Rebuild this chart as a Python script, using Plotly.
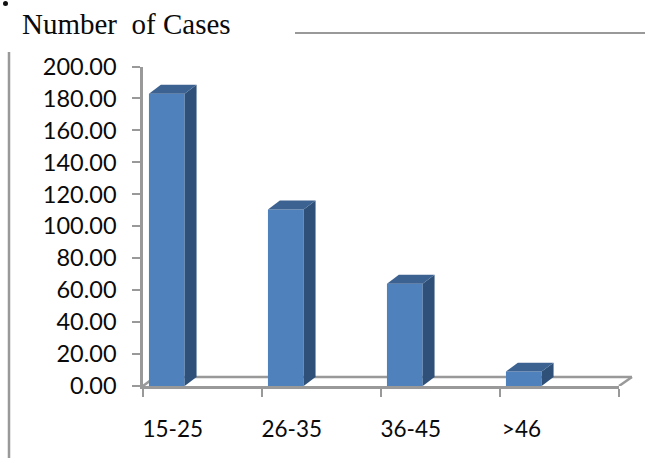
import plotly.graph_objects as go

categories = ["15-25", "26-35", "36-45", ">46"]
cases = [183, 110.5, 64, 9]
bar_centres = [0.2, 1.2, 2.2, 3.2]
label_positions = [0.25, 1.25, 2.25, 3.18]
boundary_ticks = [0, 1, 2, 3, 4]
y_ticks = list(range(0, 201, 20))
title_text = "Number  of Cases"

W, H = 645, 458
BAR_W = 0.3
DX, DY = 0.1, 5.6
FRONT, TOP, SIDE = "#4f81bd", "#3c6291", "#2f5078"
GREY = "#999999"
INK = "#0a0a0a"

fig = go.Figure()
fig.add_trace(go.Bar(x=bar_centres, y=cases, width=BAR_W, marker=dict(color=FRONT, line=dict(width=0)), hoverinfo="skip"))

for c, v in zip(bar_centres, cases):
    l, r = c - BAR_W / 2, c + BAR_W / 2
    fig.add_trace(go.Scatter(x=[r, r + DX, r + DX, r, r], y=[0, DY, v + DY, v, 0], mode="lines",
                             fill="toself", fillcolor=SIDE, line=dict(width=0), hoverinfo="skip"))
    fig.add_trace(go.Scatter(x=[l, l + DX, r + DX, r, l], y=[v, v + DY, v + DY, v, v], mode="lines",
                             fill="toself", fillcolor=TOP, line=dict(width=0), hoverinfo="skip"))

floor_line = dict(color=GREY, width=2.5)
shapes = [
    dict(type="line", xref="paper", yref="y", x0=155 / W, x1=632 / W, y0=DY, y1=DY, line=floor_line, layer="below"),
    dict(type="line", xref="paper", yref="y", x0=143 / W, x1=155 / W, y0=0, y1=DY, line=floor_line, layer="below"),
    dict(type="line", xref="paper", yref="y", x0=619 / W, x1=632 / W, y0=0, y1=DY, line=floor_line, layer="below"),
    dict(type="line", xref="paper", yref="paper", x0=9 / W, x1=9 / W, y0=0, y1=1 - 52 / H, line=dict(color=GREY, width=2.5)),
    dict(type="line", xref="paper", yref="paper", x0=295 / W, x1=1, y0=1 - 33 / H, y1=1 - 33 / H, line=dict(color=GREY, width=2)),
    dict(type="circle", xref="paper", yref="paper", x0=3 / W, x1=8 / W, y0=1 - 6 / H, y1=1 - 1 / H,
         fillcolor="#111111", line=dict(width=0)),
]

fig.update_layout(
    width=W, height=H, margin=dict(l=0, r=0, t=0, b=0, autoexpand=False), paper_bgcolor="white", plot_bgcolor="white",
    showlegend=False, shapes=shapes, font=dict(family="Lato", color=INK),
    xaxis=dict(domain=[143 / W, 619 / W], range=[0, 4], tickmode="array", tickvals=label_positions, ticktext=categories,
               ticks="outside", ticklen=0, tickfont=dict(size=22.5, family="Lato", color=INK), ticklabelstandoff=21,
               showgrid=False, zeroline=False, showline=True, linecolor=GREY, linewidth=2.5,
               minor=dict(tickmode="array", tickvals=boundary_ticks, ticks="outside", ticklen=8, tickwidth=2, tickcolor=GREY, showgrid=False)),
    yaxis=dict(domain=[1 - 386 / H, 1 - 66.5 / H], range=[0, 200], tickvals=y_ticks, tickformat=".2f",
               ticks="outside", ticklen=8, tickwidth=2, tickcolor=GREY, tickfont=dict(size=23.5, family="Lato", color=INK), ticklabelstandoff=11,
               showgrid=False, zeroline=False, showline=True, linecolor=GREY, linewidth=2.5),
    annotations=[
        dict(text=title_text, xref="paper", yref="paper", x=20 / W, y=1 - 24 / H, xanchor="left", yanchor="middle",
             showarrow=False, font=dict(family="Liberation Serif", size=29, color=INK)),
    ],
)
fig.write_html("out.html", config=dict(displayModeBar=False),
               post_script="document.body.style.margin='0';document.documentElement.style.overflow='hidden';")
